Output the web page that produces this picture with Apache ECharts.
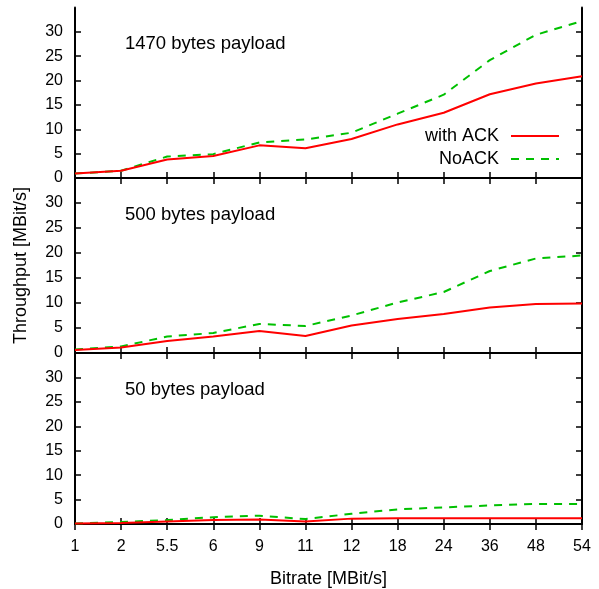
<!DOCTYPE html>
<html>
<head>
<meta charset="utf-8">
<script src="https://cdn.jsdelivr.net/npm/echarts@6/dist/echarts.min.js"></script>
<style>html,body{margin:0;padding:0;background:#fff}#c{width:599px;height:589px}</style>
</head>
<body>
<div id="c"></div>
<script>
const categories = ['1','2','5.5','6','9','11','12','18','24','36','48','54'];
const ack1470   = [0.9, 1.5, 3.8, 4.5, 6.7, 6.1, 8.0, 11.0, 13.4, 17.2, 19.4, 20.9];
const noack1470 = [0.9, 1.5, 4.4, 4.9, 7.3, 7.9, 9.3, 13.2, 17.1, 24.2, 29.4, 32.2];
const ack500    = [0.6, 1.1, 2.4, 3.3, 4.4, 3.4, 5.5, 6.8, 7.8, 9.1, 9.8, 9.9];
const noack500  = [0.7, 1.3, 3.3, 4.0, 5.8, 5.4, 7.5, 10.1, 12.2, 16.4, 18.9, 19.5];
const ack50     = [0.1, 0.2, 0.5, 0.8, 0.9, 0.5, 1.1, 1.2, 1.2, 1.2, 1.2, 1.2];
const noack50   = [0.1, 0.4, 0.8, 1.4, 1.7, 1.0, 2.1, 3.0, 3.4, 3.8, 4.1, 4.1];
const panelTitles = ['1470 bytes payload', '500 bytes payload', '50 bytes payload'];
const seriesNames = ['with ACK', 'NoACK'];
const yTickValues = [0, 5, 10, 15, 20, 25, 30];
const xAxisTitle = 'Bitrate [MBit/s]';
const yAxisTitle = 'Throughput [MBit/s]';

const panelData = [[ack1470, noack1470], [ack500, noack500], [ack50, noack50]];
const FONT = 'Liberation Sans, Arial, Helvetica, sans-serif';
const grids = [
  {left: 75, right: 17, top: 7.5, height: 170.5},
  {left: 75, right: 17, top: 178, height: 175},
  {left: 75, right: 17, top: 353, height: 172}
];
const tickStyle = {show: true, inside: true, length: 6, lineStyle: {color: '#000', width: 1.5}};
const lineAx = {show: true, lineStyle: {color: '#000', width: 2}};

const xAxes = [], yAxes = [], series = [], titles = [];
grids.forEach((g, i) => {
  const last = i === grids.length - 1;
  xAxes.push({
    type: 'category', data: categories, gridIndex: i, position: 'bottom', boundaryGap: false,
    axisLine: lineAx, axisTick: Object.assign({alignWithLabel: true, interval: 0}, tickStyle),
    axisLabel: {show: last, interval: 0, color: '#000', fontSize: 16, fontFamily: FONT, margin: 15},
    splitLine: {show: false},
    name: last ? xAxisTitle : '', nameLocation: 'middle', nameGap: 46,
    nameTextStyle: {color: '#000', fontSize: 18, fontFamily: FONT}
  });
  xAxes.push({
    type: 'category', data: categories, gridIndex: i, position: 'top', boundaryGap: false,
    axisLine: lineAx, axisTick: Object.assign({interval: 0}, tickStyle),
    axisLabel: {show: false}, splitLine: {show: false}
  });
  yAxes.push({
    type: 'value', gridIndex: i, position: 'left', min: 0, max: 35,
    axisLine: lineAx,
    axisTick: Object.assign({customValues: yTickValues}, tickStyle),
    axisLabel: {customValues: yTickValues, color: '#000', fontSize: 16, fontFamily: FONT, margin: 12},
    splitLine: {show: false},
    name: i === 1 ? yAxisTitle : '', nameLocation: 'middle', nameGap: 45,
    nameTextStyle: {color: '#000', fontSize: 18, fontFamily: FONT}
  });
  yAxes.push({
    type: 'value', gridIndex: i, position: 'right', min: 0, max: 35,
    axisLine: lineAx,
    axisTick: Object.assign({customValues: yTickValues}, tickStyle),
    axisLabel: {show: false}, splitLine: {show: false}
  });
  const [a, n] = panelData[i];
  series.push({
    name: seriesNames[0], type: 'line', data: a, xAxisIndex: 2 * i, yAxisIndex: 2 * i,
    symbol: 'none', lineStyle: {color: '#ff0000', width: 2}, itemStyle: {color: '#ff0000'}, z: 3
  });
  series.push({
    name: seriesNames[1], type: 'line', data: n, xAxisIndex: 2 * i, yAxisIndex: 2 * i,
    symbol: 'none', lineStyle: {color: '#00c000', width: 2, type: [8, 7]}, itemStyle: {color: '#00c000'}, z: 2
  });
  titles.push({
    text: panelTitles[i], left: 125, top: g.top + 27, padding: 0,
    textStyle: {color: '#000', fontSize: 18.5, fontWeight: 'normal', fontFamily: FONT}
  });
});

const chart = echarts.init(document.getElementById('c'), null, {renderer: 'canvas'});
chart.setOption({
  animation: false,
  backgroundColor: '#fff',
  title: titles,
  grid: grids,
  xAxis: xAxes,
  yAxis: yAxes,
  legend: {
    data: seriesNames, orient: 'vertical', align: 'right', right: 39, top: 127,
    itemWidth: 48, itemHeight: 14, itemGap: 5, padding: 0,
    itemStyle: {opacity: 0},
    textStyle: {color: '#000', fontSize: 18, fontFamily: FONT, padding: [0, 7, 0, 0]}
  },
  series: series
});
</script>
</body>
</html>
